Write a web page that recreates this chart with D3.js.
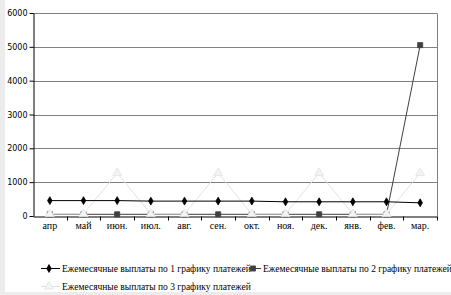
<!DOCTYPE html>
<html lang="ru">
<head>
<meta charset="UTF-8">
<title>Ежемесячные выплаты</title>
<script src="https://d3js.org/d3.v7.min.js"></script>
<style>
  body { margin: 0; background: #ececec; }
  svg { display: block; }
  .serif { font-family: "Liberation Serif", "Times New Roman", "DejaVu Serif", serif; }
</style>
</head>
<body>
<div id="chart"></div>
<script>
const months = ["апр", "май", "июн.", "июл.", "авг.", "сен.", "окт.", "ноя.", "дек.", "янв.", "фев.", "мар."];
const series1 = [455, 455, 455, 440, 440, 440, 440, 420, 420, 420, 420, 390];
const series2 = [50, 50, 50, 50, 50, 50, 50, 50, 50, 50, 50, 5050];
const series3 = [60, 60, 1270, 60, 60, 1270, 60, 60, 1270, 60, 60, 1270];
const yTicks = [0, 1000, 2000, 3000, 4000, 5000, 6000];
const names = [
  "Ежемесячные выплаты  по 1 графику платежей",
  "Ежемесячные выплаты  по 2 графику платежей",
  "Ежемесячные выплаты  по 3 графику платежей"
];

const W = 451, H = 295;
const margin = {top: 13, right: 14, bottom: 79, left: 33};
const width = W - margin.left - margin.right,
      height = H - margin.top - margin.bottom;

const root = d3.select("#chart").append("svg")
  .attr("width", W).attr("height", H);

// white chart area
root.append("rect").attr("x", 5).attr("y", 0).attr("width", W - 5).attr("height", H - 3).attr("fill", "#fff");

const svg = root.append("g").attr("transform", `translate(${margin.left},${margin.top})`);

const x = d3.scaleBand().domain(months).range([0, width]);
const y = d3.scaleLinear().domain([0, 6000]).range([height, 0]);

// gridlines
svg.append("g").selectAll("line").data(yTicks.slice(1)).enter().append("line")
  .attr("x1", 0).attr("x2", width)
  .attr("y1", d => Math.round(y(d)) + 0.5).attr("y2", d => Math.round(y(d)) + 0.5)
  .attr("stroke", "#808080");
svg.append("line").attr("x1", width + 0.5).attr("x2", width + 0.5)
  .attr("y1", Math.round(y(6000)) + 0.5).attr("y2", height)
  .attr("stroke", "#808080");

// y axis
const yAxis = svg.append("g").attr("transform", "translate(0.5,0)")
  .call(d3.axisLeft(y).tickValues(yTicks).tickFormat(d3.format("d")).tickSize(4).tickSizeOuter(0).tickPadding(2));
yAxis.selectAll("path, line").attr("stroke", "#000");
yAxis.selectAll("text").attr("font-family", "'DejaVu Sans', sans-serif").attr("font-size", 8).attr("fill", "#000");

// x axis
const xAxis = svg.append("g").attr("transform", `translate(0,${Math.round(height) + 0.5})`)
  .call(d3.axisBottom(x).tickSize(0).tickPadding(5));
xAxis.select(".domain").attr("stroke", "#000");
xAxis.selectAll("text").attr("class", "serif").attr("font-size", 10).attr("fill", "#000");
xAxis.selectAll(".sep").data(months.slice(1).concat(["end"])).enter().append("line")
  .attr("x1", (d, i) => Math.round(x.step() * (i + 1)) + 0.5)
  .attr("x2", (d, i) => Math.round(x.step() * (i + 1)) + 0.5)
  .attr("y1", 0).attr("y2", 4).attr("stroke", "#000");

const line = d3.line().x((d, i) => x(months[i]) + x.bandwidth() / 2).y(d => y(d));

const styles = [
  {data: series2, color: "#404040", marker: "square", fill: "#404040"},
  {data: series3, color: "#e2e2e2", marker: "triangle", fill: "#f4f4f4"},
  {data: series1, color: "#000", marker: "diamond", fill: "#000"}
];
const sym = {square: d3.symbolSquare, triangle: d3.symbolTriangle, diamond: d3.symbolDiamond};
const sizes = {square: 26, triangle: 34, diamond: 18};

styles.forEach(s => {
  svg.append("path").datum(s.data).attr("d", line)
    .attr("fill", "none").attr("stroke", s.color).attr("stroke-width", 1);
  svg.selectAll(null).data(s.data).enter().append("path")
    .attr("transform", (d, i) => `translate(${x(months[i]) + x.bandwidth() / 2},${y(d)})`)
    .attr("d", d3.symbol().type(sym[s.marker]).size(sizes[s.marker]))
    .attr("fill", s.fill).attr("stroke", s.color).attr("stroke-width", 0.8);
});

// legend
const legendItems = [
  {name: names[0], color: "#000", marker: "diamond", fill: "#000", x: 41, y: 268, len: 19, mx: 8},
  {name: names[1], color: "#404040", marker: "square", fill: "#404040", x: 250, y: 268, len: 11, mx: 3},
  {name: names[2], color: "#e2e2e2", marker: "triangle", fill: "#f4f4f4", x: 41, y: 286, len: 19, mx: 8}
];
const lg = root.append("g");
legendItems.forEach(it => {
  const g = lg.append("g").attr("transform", `translate(${it.x},${it.y})`);
  g.append("line").attr("x1", 0).attr("x2", it.len).attr("y1", 0.5).attr("y2", 0.5).attr("stroke", it.color);
  g.append("path").attr("transform", `translate(${it.mx},0.5)`)
    .attr("d", d3.symbol().type(sym[it.marker]).size(sizes[it.marker]))
    .attr("fill", it.fill).attr("stroke", it.color).attr("stroke-width", 0.8);
  g.append("text").attr("class", "serif").attr("x", it.len + 2).attr("y", 3.5)
    .attr("font-size", 9.5).attr("fill", "#000").text(it.name);
});
</script>
</body>
</html>
